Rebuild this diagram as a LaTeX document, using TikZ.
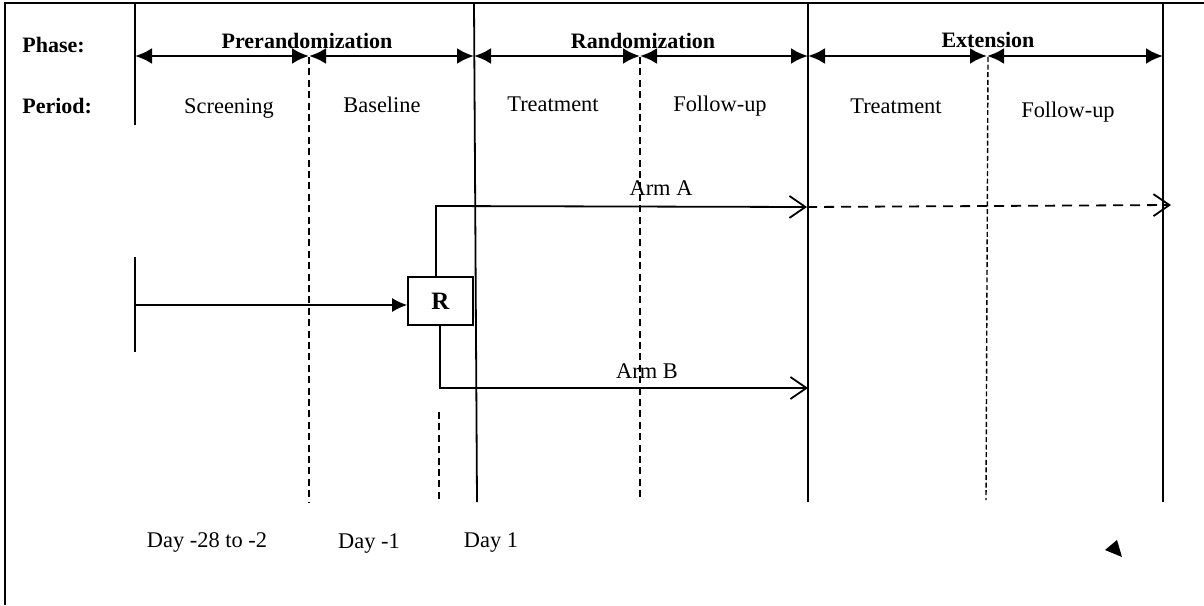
\documentclass[tikz,border=0pt]{standalone}
\usepackage{fontspec}
\setmainfont{Liberation Serif}
\usetikzlibrary{arrows.meta}
\begin{document}
\begin{tikzpicture}[x=0.5pt,y=-0.5pt,
  frameline/.style={line width=1.1pt},
  solidv/.style={line width=0.9pt},
  dashv/.style={line width=0.8pt, dash pattern=on 3.5pt off 2.2pt},
  finedash/.style={line width=0.7pt, dash pattern=on 2.5pt off 1.3pt},
  span/.style={{Latex[length=8.5pt,width=8pt]}-{Latex[length=8.5pt,width=8pt]}, line width=1.4pt},
  armtip/.style={-{Straight Barb[length=8pt,width=11pt,line width=0.9pt]}},
  armline/.style={line width=0.9pt, armtip},
  feed/.style={line width=0.9pt, -{Latex[length=7.5pt,width=7pt]}},
  hdr/.style={font=\fontsize{11}{13}\selectfont\bfseries, inner sep=0pt, anchor=base},
  lbl/.style={font=\fontsize{11.2}{13}\selectfont, inner sep=0pt, anchor=base},
  rbox/.style={draw, line width=0.8pt, minimum width=32.5pt, minimum height=24pt, inner sep=0pt, font=\fontsize{12.5}{14}\selectfont\bfseries}
]
\useasboundingbox (0,0) rectangle (1204,605);

% frame
\draw[frameline] (5,605) -- (5,3) -- (1204,3);

% row headers
\node[hdr, anchor=base west] (phase) at (22,52) {Phase:};
\node[hdr, anchor=base west] (period) at (22,113) {Period:};

% vertical lines
\draw[solidv] (135,3) -- (135,125);
\draw[solidv] (474,3) -- (477,502);
\draw[solidv] (808,3) -- (808,502);
\draw[solidv,line width=1.1pt] (1163,3) -- (1163,502);
\draw[dashv] (309,57) -- (309,502);
\draw[dashv] (640,57) -- (640,500);
\draw[finedash] (988,57) -- (986,500);
\draw[dashv] (439,412) -- (439,500);

% phase span arrows
\coordinate (s0) at (135,56);
\coordinate (s1) at (309,56);
\coordinate (s2) at (474,56);
\coordinate (s3) at (640,56);
\coordinate (s4) at (808,56);
\coordinate (s5) at (987,56);
\coordinate (s6) at (1163,56);
\draw[span] (s0) -- (s1);
\draw[span] (s1) -- (s2);
\draw[span] (s2) -- (s3);
\draw[span] (s3) -- (s4);
\draw[span] (s4) -- (s5);
\draw[span] (s5) -- (s6);

% phase labels
\node[hdr] (pre) at (307,48) {Prerandomization};
\node[hdr] (rand) at (643,48) {Randomization};
\node[hdr] (ext) at (988,47) {Extension};

% period labels
\node[lbl] (scr) at (229,113) {Screening};
\node[lbl] (base) at (382,112) {Baseline};
\node[lbl] (trt1) at (553,111) {Treatment};
\node[lbl] (fu1) at (720,111) {Follow-up};
\node[lbl] (trt2) at (896,113) {Treatment};
\node[lbl] (fu2) at (1068,117) {Follow-up};

% screening start tick and feed to R
\draw[solidv] (135,257) -- (135,352);
\node[rbox] (R) at (440.5,301) {R};
\coordinate (feedstart) at (135,305);
\draw[feed] (feedstart) -- (R.west |- feedstart);

% arms
\coordinate (aup) at (436,206);
\coordinate (aend) at (807,207);
\coordinate (bdown) at (440,388);
\coordinate (bend) at (808,388);
\coordinate (ext1) at (1171,205);
\draw[armline] (R.north -| aup) -- (aup) -- (aend);
\draw[armline] (R.south -| bdown) -- (bdown) -- (bend);
\draw[line width=0.9pt, dash pattern=on 5pt off 3.5pt, armtip] (aend) -- (ext1);
\node[lbl] (armA) at (661,195) {Arm A};
\node[lbl] (armB) at (647,378) {Arm B};

% day labels
\node[lbl] (d1) at (207,547) {Day -28 to -2};
\node[lbl] (d2) at (369,548) {Day -1};
\node[lbl] (d3) at (491,547) {Day 1};

% stray arrowhead
\fill (1105,550) -- (1117,540) -- (1122,557) -- cycle;
\end{tikzpicture}
\end{document}
